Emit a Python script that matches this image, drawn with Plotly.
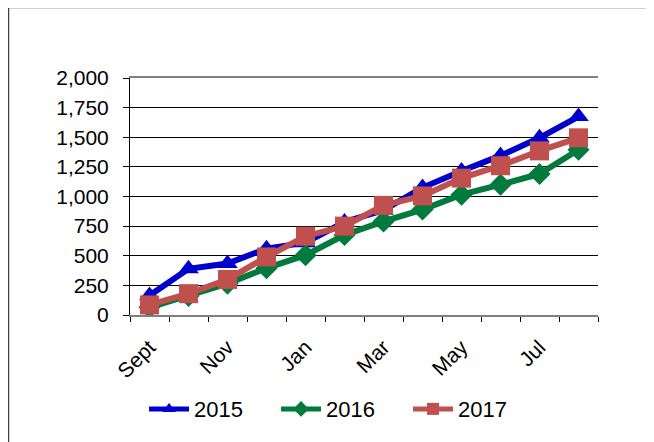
import plotly.graph_objects as go

months = ["Sept", "Oct", "Nov", "Dec", "Jan", "Feb", "Mar", "Apr", "May", "Jun", "Jul", "Aug"]
month_labels = ["Sept", "", "Nov", "", "Jan", "", "Mar", "", "May", "", "Jul", ""]
y2015 = [165, 390, 435, 560, 610, 785, 885, 1075, 1215, 1345, 1495, 1675]
y2016 = [65, 160, 265, 395, 505, 675, 790, 890, 1015, 1100, 1190, 1395]
y2017 = [85, 180, 300, 490, 665, 750, 925, 1005, 1155, 1260, 1385, 1495]
y_ticks = [0, 250, 500, 750, 1000, 1250, 1500, 1750, 2000]
y_tick_labels = ["0", "250", "500", "750", "1,000", "1,250", "1,500", "1,750", "2,000"]

FONT = "Liberation Sans, Arial, sans-serif"

fig = go.Figure()
fig.add_trace(go.Scatter(x=months, y=y2015, name="2015", mode="lines+markers",
                         line=dict(color="#0000CC", width=6),
                         marker=dict(symbol="triangle-up", size=18, color="#0000CC")))
fig.add_trace(go.Scatter(x=months, y=y2016, name="2016", mode="lines+markers",
                         line=dict(color="#007A3D", width=6),
                         marker=dict(symbol="diamond", size=17, color="#007A3D")))
fig.add_trace(go.Scatter(x=months, y=y2017, name="2017", mode="lines+markers",
                         line=dict(color="#C0504D", width=6),
                         marker=dict(symbol="square", size=19, color="#C0504D")))

fig.update_layout(
    width=646, height=434,
    margin=dict(l=122, r=56, t=70, b=127),
    paper_bgcolor="white", plot_bgcolor="white",
    font=dict(family=FONT, size=21, color="black"),
    showlegend=True,
    legend=dict(orientation="h", x=0.03, xanchor="left", y=-0.397, yanchor="middle",
                font=dict(size=22), itemwidth=40, itemsizing="constant",
                entrywidth=77, entrywidthmode="pixels", tracegroupgap=0,
                bgcolor="rgba(0,0,0,0)"),
    xaxis=dict(
        type="category", categoryorder="array", categoryarray=months,
        tickmode="array", tickvals=months, ticktext=month_labels,
        tickson="boundaries", ticks="outside", ticklen=5, tickcolor="black",
        tickangle=-45, showgrid=False, showline=True, linecolor="#808080",
        linewidth=1.5, mirror=True, range=[-0.5, 11.5], ticklabelstandoff=10,
        tickfont=dict(size=21),
    ),
    yaxis=dict(
        range=[0, 2000], tickmode="array", tickvals=y_ticks, ticktext=y_tick_labels,
        ticks="outside", ticklen=6, tickcolor="black", showgrid=True,
        gridcolor="black", gridwidth=1, showline=True, linecolor="black",
        linewidth=1, zeroline=False, ticklabelstandoff=10,
        tickfont=dict(size=21),
    ),
    shapes=[dict(type="rect", xref="paper", yref="paper",
                 x0=(0.5 - 122) / 468, x1=(700 - 122) / 468,
                 y0=-(480 - 307) / 237, y1=(307 + 0.5) / 237,
                 line=dict(color="#404040", width=1.5), layer="below")],
)
fig.write_html("out.html")
